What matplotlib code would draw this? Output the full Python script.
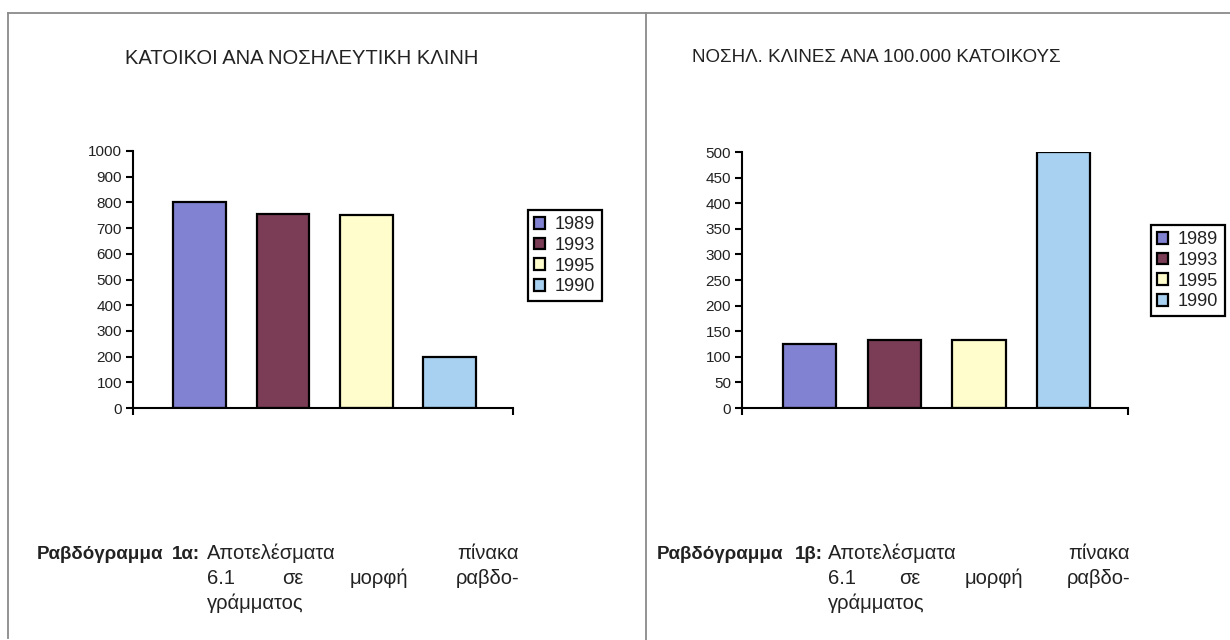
import matplotlib
matplotlib.use("Agg")
import matplotlib.pyplot as plt
from matplotlib.patches import Patch
from matplotlib.lines import Line2D

plt.rcParams['font.family'] = ['Liberation Sans', 'DejaVu Sans']

W, H = 1230, 640

years = ['1989', '1993', '1995', '1990']
bar_colors = ['#8282d2', '#7b3c55', '#fffdcc', '#a8d0f0']
residents_per_bed = [800, 755, 750, 200]
beds_per_100k = [125, 132, 133, 500]

title_a = 'ΚΑΤΟΙΚΟΙ ΑΝΑ ΝΟΣΗΛΕΥΤΙΚΗ ΚΛΙΝΗ'
title_b = 'ΝΟΣΗΛ. ΚΛΙΝΕΣ ΑΝΑ 100.000 ΚΑΤΟΙΚΟΥΣ'
ticks_a = list(range(0, 1001, 100))
ticks_b = list(range(0, 501, 50))

caption_a = ['Ραβδόγραμμα', '1α:']
caption_b = ['Ραβδόγραμμα', '1β:']
caption_lines = [['Αποτελέσματα', 'πίνακα'],
                 ['6.1', 'σε', 'μορφή', 'ραβδο-'],
                 ['γράμματος']]


def px(x, y):
    return x / W, 1 - y / H


def justify(fig, words, x0, x1, y, **kw):
    # spread the words between x0 and x1 (pixels)
    texts = [fig.text(0, 1 - y / H, w, va='baseline', **kw) for w in words]
    r = fig.canvas.get_renderer()
    widths = [t.get_window_extent(r).width for t in texts]
    if len(words) == 1:
        texts[0].set_x(x0 / W)
        return
    gap = (x1 - x0 - sum(widths)) / (len(words) - 1)
    x = x0
    for t, w in zip(texts, widths):
        t.set_x(x / W)
        x += w + gap


def bar_panel(ax, values, yticks, ymax):
    pos = range(len(values))
    ax.bar(pos, values, width=0.63, color=bar_colors, edgecolor='black', linewidth=1.6)
    ax.set_ylim(0, ymax)
    ax.set_xlim(-0.8, 3.76)
    ax.set_yticks(yticks)
    ax.set_xticks([-0.8, 3.76])
    ax.set_xticklabels(['', ''])
    ax.tick_params(axis='both', direction='out', length=5, width=1.5, labelsize=11, pad=3,
                   labelcolor='#222222')
    for s in ['top', 'right']:
        ax.spines[s].set_visible(False)
    for s in ['left', 'bottom']:
        ax.spines[s].set_linewidth(1.5)
    ax.set_facecolor('none')


fig = plt.figure(figsize=(W / 100, H / 100), dpi=100)

ax1 = fig.add_axes([133 / W, 1 - 408 / H, 380 / W, 257 / H])
bar_panel(ax1, residents_per_bed, ticks_a, 1000)
ax2 = fig.add_axes([742 / W, 1 - 408 / H, 386 / W, 256 / H])
bar_panel(ax2, beds_per_100k, ticks_b, 500)

handles = [Patch(facecolor=c, edgecolor='black', linewidth=1.6) for c in bar_colors]
for ax, (lx, ly) in [(ax1, (528, 210)), (ax2, (1151, 225))]:
    leg = ax.legend(handles, years, loc='upper left', bbox_to_anchor=px(lx, ly),
                    bbox_transform=fig.transFigure, fontsize=13, frameon=True,
                    fancybox=False, edgecolor='black', framealpha=1, borderpad=0.35,
                    handlelength=0.6, handleheight=0.6, handletextpad=0.55,
                    labelspacing=0.2, borderaxespad=0)
    leg.get_frame().set_linewidth(1.6)
    for t in leg.get_texts():
        t.set_color('#222222')

fig.text(*px(302, 58), title_a, ha='center', va='center', fontsize=14.5, color='#222222')
fig.text(*px(876, 58), title_b, ha='center', va='center', fontsize=13.5, color='#222222')

# panel frame
for xs, ys in [([8, W], [13, 13]), ([8, 8], [13, 638]), ([646, 646], [13, H])]:
    fig.add_artist(Line2D([x / W for x in xs], [1 - y / H for y in ys],
                          color='#8a8a8a', linewidth=1.3))

fig.canvas.draw()
justify(fig, caption_a, 37, 200, 559, fontsize=13.5, fontweight='bold', color='#222222')
justify(fig, caption_b, 657, 823, 559, fontsize=13.5, fontweight='bold', color='#222222')
for i, words in enumerate(caption_lines):
    y = 559 + 25 * i
    justify(fig, words, 207, 519, y, fontsize=14.5, color='#222222')
    justify(fig, words, 828, 1130, y, fontsize=14.5, color='#222222')

fig.savefig('out.png', dpi=100)
